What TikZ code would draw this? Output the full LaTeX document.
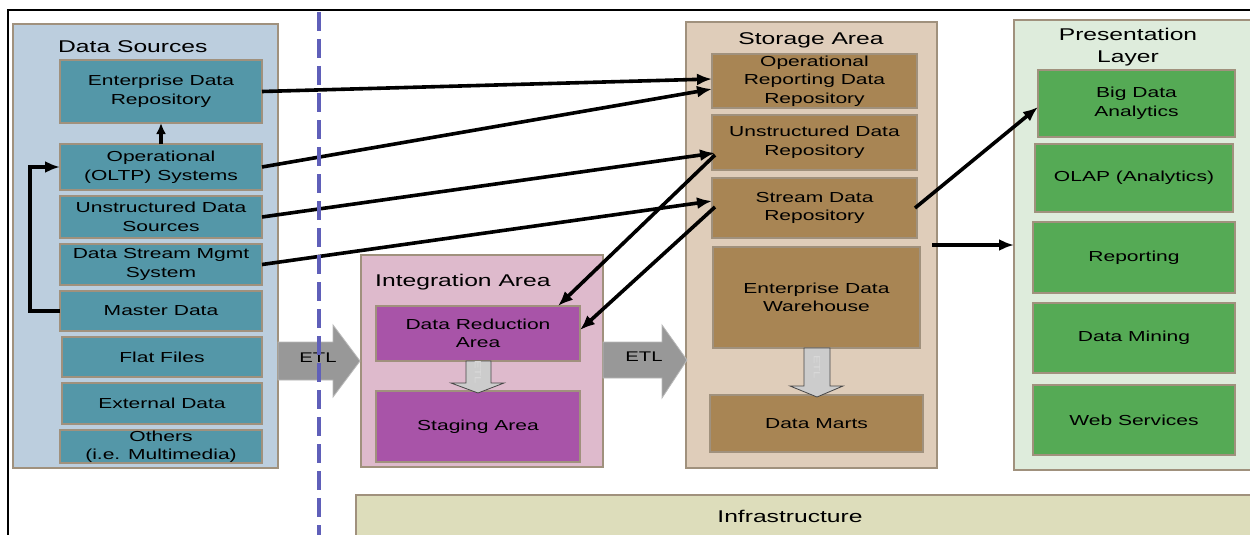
\documentclass[tikz,border=0pt]{standalone}
\usepackage{fontspec}
\setmainfont{Liberation Sans}[FakeStretch=1.45]
\usetikzlibrary{arrows.meta}

% palette
\definecolor{edgec}{RGB}{160,145,125}
\definecolor{srcbg}{RGB}{188,206,222}
\definecolor{srcfill}{RGB}{84,151,168}
\definecolor{intbg}{RGB}{222,186,204}
\definecolor{intfill}{RGB}{168,84,168}
\definecolor{storbg}{RGB}{223,205,186}
\definecolor{storfill}{RGB}{168,133,84}
\definecolor{presbg}{RGB}{222,236,220}
\definecolor{presfill}{RGB}{85,170,85}
\definecolor{infrabg}{RGB}{221,221,187}
\definecolor{etlgray}{RGB}{152,152,152}
\definecolor{etledge}{RGB}{185,185,185}
\definecolor{dashblue}{RGB}{95,95,185}

\begin{document}
\begin{tikzpicture}[x=1pt,y=-1pt,
  area/.style={draw=edgec, line width=1.2pt, inner sep=0pt, outer sep=0pt},
  boxtext/.style={font=\fontsize{14.5}{18.5}\selectfont, align=center, text=black},
  title/.style={font=\fontsize{17}{22}\selectfont, text=black, inner sep=0pt},
  srcbox/.style={area, fill=srcfill, boxtext},
  intbox/.style={area, fill=intfill, boxtext},
  storbox/.style={area, fill=storfill, boxtext},
  presbox/.style={area, fill=presfill, boxtext},
  blockarrow/.style={fill=etlgray, draw=etledge, line width=0.8pt},
  minietl/.style={fill=gray!40, draw=gray!55!black, line width=0.8pt},
  etltext/.style={font=\fontsize{14}{16}\selectfont, text=black},
  minitext/.style={font=\fontsize{9}{10}\selectfont, text=white!85!black, rotate=-90},
  link/.style={line width=3.6pt, -{Latex[length=15pt,width=12pt]}},
  dashline/.style={dashblue, line width=3.5pt, dash pattern=on 19pt off 8pt}
]
\useasboundingbox (0,0) rectangle (1250,535);

% outer frame
\draw[line width=2.5pt] (8,535) -- (8,10) -- (1250,10);

% infrastructure band
\node[area, fill=infrabg, minimum width=898pt, minimum height=50pt] (infra) at (805,520) {};
\node[title] (infralabel) at (790,516) {Infrastructure};

% ---- Data sources ----
\node[area, fill=srcbg, minimum width=265pt, minimum height=444pt] (sources) at (145.5,246) {};
\node[title, anchor=west] (srctitle) at (58,47) {Data Sources};
\node[srcbox, minimum width=202pt, minimum height=63pt] (edr) at (161,91.5) {Enterprise Data\\Repository};
\node[srcbox, minimum width=202pt, minimum height=46pt] (oltp) at (161,167) {Operational\\(OLTP) Systems};
\node[srcbox, minimum width=202pt, minimum height=42pt] (uds) at (161,217) {Unstructured Data\\Sources};
\node[srcbox, minimum width=202pt, minimum height=41pt] (dsms) at (161,264.5) {Data Stream Mgmt\\System};
\node[srcbox, minimum width=202pt, minimum height=40pt] (master) at (161,311) {Master Data};
\node[srcbox, minimum width=200pt, minimum height=40pt] (flat) at (162,357) {Flat Files};
\node[srcbox, minimum width=200pt, minimum height=41pt] (ext) at (162,403.5) {External Data};
\node[srcbox, minimum width=202pt, minimum height=33pt] (others) at (161,446.5) {Others\\(i.e. Multimedia)};

% ---- Integration area ----
\node[area, fill=intbg, minimum width=242pt, minimum height=212pt] (integ) at (482,361) {};
\node[title, anchor=west] (inttitle) at (375,282) {Integration Area};
\node[intbox, minimum width=204pt, minimum height=55pt] (dra) at (478,333.5) {Data Reduction\\Area};
\node[intbox, minimum width=204pt, minimum height=71pt] (staging) at (478,426.5) {Staging Area};

% ---- Storage area ----
\node[area, fill=storbg, minimum width=251pt, minimum height=446pt] (storage) at (811.5,245) {};
\node[title] (stortitle) at (811,40) {Storage Area};
\node[storbox, minimum width=205pt, minimum height=54pt] (ordr) at (814.5,81) {Operational\\Reporting Data\\Repository};
\node[storbox, minimum width=205pt, minimum height=55pt] (udr) at (814.5,142.5) {Unstructured Data\\Repository};
\node[storbox, minimum width=205pt, minimum height=60pt] (sdr) at (814.5,208) {Stream Data\\Repository};
\node[storbox, minimum width=207pt, minimum height=101pt] (edw) at (816.5,297.5) {Enterprise Data\\Warehouse};
\node[storbox, minimum width=213pt, minimum height=57pt] (marts) at (816.5,423.5) {Data Marts};

% ---- Presentation layer ----
\node[area, fill=presbg, minimum width=240pt, minimum height=450pt] (pres) at (1134,245) {};
\node[title, align=center] (prestitle) at (1128,47) {Presentation\\Layer};
\node[presbox, minimum width=197pt, minimum height=67pt] (bda) at (1136.5,103.5) {Big Data\\Analytics};
\node[presbox, minimum width=198pt, minimum height=68pt] (olap) at (1134,178) {OLAP  (Analytics)};
\node[presbox, minimum width=202pt, minimum height=71pt] (rep) at (1134,257.5) {Reporting};
\node[presbox, minimum width=202pt, minimum height=70pt] (mining) at (1134,338) {Data Mining};
\node[presbox, minimum width=202pt, minimum height=70pt] (web) at (1134,420) {Web Services};

% ---- ETL block arrows ----
\draw[blockarrow] (278,342) -- (333,342) -- (333,325) -- (360,361) -- (333,397) -- (333,380) -- (278,380) -- cycle;
\node[etltext] (etlone) at (318,358) {ETL};
\draw[blockarrow] (603,342) -- (662,342) -- (662,325) -- (687,360) -- (662,398) -- (662,378) -- (603,378) -- cycle;
\node[etltext] (etltwo) at (644,357) {ETL};

\draw[minietl] (466,361) -- (491,361) -- (491,383) -- (504,383) -- (478,393) -- (451,383) -- (466,383) -- cycle;
\node[minitext] (etlthree) at (478,372) {ETL};
\draw[minietl] (804,348) -- (830,348) -- (830,386) -- (843,386) -- (817,397) -- (790,386) -- (804,386) -- cycle;
\node[minitext] (etlfour) at (817,367) {ETL};

% ---- connectors ----
\draw[link, -{Latex[length=11pt,width=10pt]}] (oltp.north) -- (edr.south);
\draw[link] (master.west) -- ++(-30,0) |- (oltp.west);
\draw[link] (edr.east) -- ([yshift=2pt]ordr.west);
\draw[link] (oltp.east) -- ([yshift=-8pt]ordr.west);
\draw[link] (uds.east) -- ([xshift=3pt,yshift=-10.5pt]udr.west);
\draw[link] (dsms.east) -- ([yshift=7pt]sdr.west);
\draw[link] ([xshift=3pt,yshift=-12.5pt]udr.west) -- ([xshift=-22pt]dra.north east);
\draw[link] ([xshift=3pt,yshift=1pt]sdr.west) -- ([yshift=3.5pt]dra.east);
\draw[link] ([xshift=-2pt]sdr.east) -- ([yshift=-3.5pt]bda.west);
\draw[link] ([xshift=-5pt]storage.east) -- (storage.east -| pres.west);

% boundary between source systems and the warehouse side
\draw[dashline] (319,12) -- (319,535);
\end{tikzpicture}
\end{document}
